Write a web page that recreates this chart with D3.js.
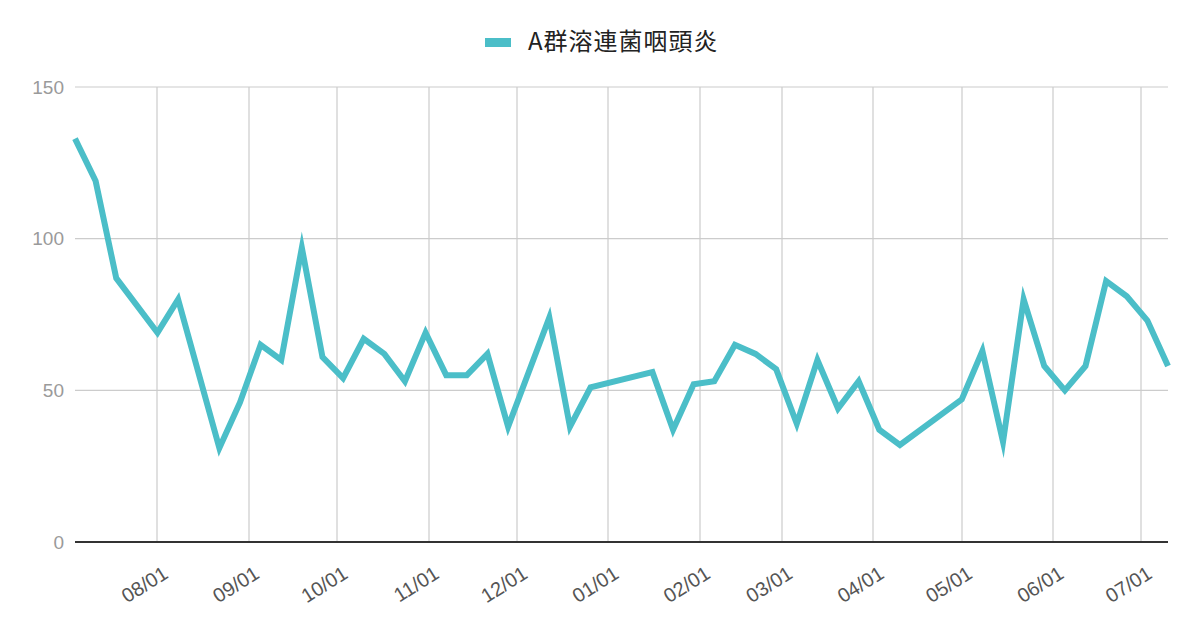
<!DOCTYPE html>
<html>
<head>
<meta charset="utf-8">
<script src="https://cdn.jsdelivr.net/npm/d3@7"></script>
<style>
  html, body { margin: 0; padding: 0; background: #fff; }
  svg { display: block; }
  .lab { font-family: 'Liberation Sans', Arial, sans-serif; }
  .leg { font-family: 'Noto Sans CJK JP', sans-serif; }
</style>
</head>
<body>
<svg id="chart" width="1200" height="626"></svg>
<script>
const seriesName = "A群溶連菌咽頭炎";
const weekDates = [
  "2022-07-04","2022-07-11","2022-07-18","2022-08-01","2022-08-08","2022-08-22","2022-08-29",
  "2022-09-05","2022-09-12","2022-09-19","2022-09-26","2022-10-03","2022-10-10","2022-10-17",
  "2022-10-24","2022-10-31","2022-11-07","2022-11-14","2022-11-21","2022-11-28","2022-12-12",
  "2022-12-19","2022-12-26","2023-01-16","2023-01-23","2023-01-30","2023-02-06","2023-02-13",
  "2023-02-20","2023-02-27","2023-03-06","2023-03-13","2023-03-20","2023-03-27","2023-04-03",
  "2023-04-10","2023-05-01","2023-05-08","2023-05-15","2023-05-22","2023-05-29","2023-06-05",
  "2023-06-12","2023-06-19","2023-06-26","2023-07-03","2023-07-10"
];
const cases = [
  133,119,87,69,80,31,46,
  65,60,97,61,54,67,62,
  53,69,55,55,62,38,74,
  38,51,56,37,52,53,65,
  62,57,39,60,44,53,37,
  32,47,63,33,80,58,50,
  58,86,81,73,58
];
const yTicks = [0, 50, 100, 150];

(function () {
const parse = d3.utcParse("%Y-%m-%d");
const data = weekDates.map((d, i) => ({ date: parse(d), value: cases[i] }));

const mLeft = 75, mRight = 1168, mTop = 87, mBottom = 542;
const svg = d3.select("#chart");

const x = d3.scaleUtc()
  .domain(d3.extent(data, d => d.date))
  .range([mLeft, mRight]);
const y = d3.scaleLinear().domain([0, 150]).range([mBottom, mTop]);

const monthTicks = d3.utcMonth.range(d3.utcMonth.ceil(x.domain()[0]), x.domain()[1]);

// horizontal gridlines
svg.append("g").selectAll("line").data(yTicks.filter(t => t > 0)).join("line")
  .attr("x1", mLeft).attr("x2", mRight)
  .attr("y1", d => y(d)).attr("y2", d => y(d))
  .attr("stroke", "#cccccc").attr("stroke-width", 1.2);

// vertical gridlines
svg.append("g").selectAll("line").data(monthTicks).join("line")
  .attr("x1", d => Math.round(x(d))).attr("x2", d => Math.round(x(d)))
  .attr("y1", mTop).attr("y2", mBottom)
  .attr("stroke", "#cccccc").attr("stroke-width", 1.2);

// y labels
svg.append("g").selectAll("text").data(yTicks).join("text")
  .attr("class", "lab")
  .attr("x", 64).attr("y", d => y(d))
  .attr("dy", "0.35em")
  .attr("text-anchor", "end")
  .attr("font-size", 19)
  .attr("fill", "#9a9a9a")
  .text(d => d);

// x labels
const fmt = d3.utcFormat("%m/%d");
svg.append("g").selectAll("text").data(monthTicks).join("text")
  .attr("class", "lab")
  .attr("transform", d => `translate(${x(d) + 12},${577}) rotate(-32)`)
  .attr("text-anchor", "end")
  .attr("font-size", 20)
  .attr("fill", "#555555")
  .text(d => fmt(d));

// baseline
svg.append("line")
  .attr("x1", mLeft).attr("x2", mRight)
  .attr("y1", y(0)).attr("y2", y(0))
  .attr("stroke", "#333333").attr("stroke-width", 2);

// series line
const line = d3.line().x(d => x(d.date)).y(d => y(d.value));
svg.append("path")
  .datum(data)
  .attr("d", line)
  .attr("fill", "none")
  .attr("stroke", "#4bbec8")
  .attr("stroke-width", 6)
  .attr("stroke-linejoin", "miter")
  .attr("stroke-miterlimit", 10);

// legend
const legend = svg.append("g");
legend.append("rect")
  .attr("x", 485).attr("y", 38).attr("width", 26).attr("height", 9)
  .attr("fill", "#4bbec8");
legend.append("text")
  .attr("class", "leg")
  .attr("x", 528).attr("y", 50)
  .attr("font-size", 24)
  .attr("letter-spacing", 1)
  .attr("fill", "#222222")
  .text(seriesName);
})();
</script>
</body>
</html>
